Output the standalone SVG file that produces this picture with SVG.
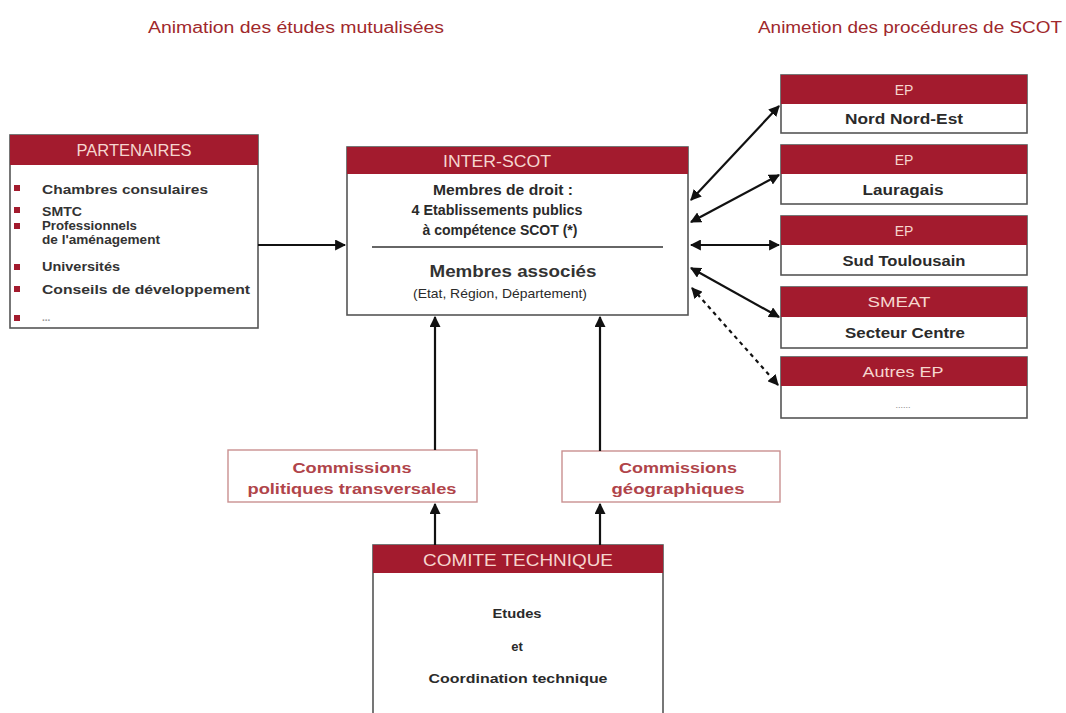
<svg xmlns="http://www.w3.org/2000/svg" width="1066" height="713" viewBox="0 0 1066 713">
<style>
text{font-family:"Liberation Sans","DejaVu Sans",sans-serif;text-anchor:middle}
.title{fill:#a0282c;font-size:16px}
.box{fill:#fff;stroke:#555;stroke-width:1.6}
.hdr{fill:#a31b2e}
.htxt{fill:#f6d6cf}
.btxt{fill:#2a2a2a;font-weight:bold}
.ntxt{fill:#333}
.item{fill:#333;font-weight:bold;text-anchor:start}
.bul{fill:#a31b2e}
.com{fill:#fff;stroke:#c99090;stroke-width:1.4}
.ctxt{fill:#b0444a;font-weight:bold}
.arr{stroke:#111;stroke-width:2.2;fill:none}
</style>
<defs>
<marker id="ah" viewBox="0 0 10 10" refX="9" refY="5" markerWidth="5" markerHeight="5" orient="auto-start-reverse" markerUnits="strokeWidth">
<path d="M0,0 L10,5 L0,10 z" fill="#111"/>
</marker>
</defs>
<rect width="1066" height="713" fill="#fff"/>
<g id="titles">
<text class="title" x="296" y="33" textLength="296" lengthAdjust="spacingAndGlyphs">Animation des études mutualisées</text>
<text class="title" x="910" y="33" textLength="304" lengthAdjust="spacingAndGlyphs">Animetion des procédures de SCOT</text>
</g>
<g id="partenaires">
<rect class="box" x="10" y="135" width="248" height="193"/>
<rect class="hdr" x="10" y="135" width="248" height="30"/>
<text class="htxt" x="134" y="156" style="font-size:16px" textLength="115" lengthAdjust="spacingAndGlyphs">PARTENAIRES</text>
<rect class="bul" x="14" y="185" width="6" height="6"/>
<rect class="bul" x="14" y="207" width="6" height="6"/>
<rect class="bul" x="14" y="223" width="6" height="6"/>
<rect class="bul" x="14" y="264" width="6" height="6"/>
<rect class="bul" x="14" y="286" width="6" height="6"/>
<rect class="bul" x="14" y="315" width="6" height="6"/>
<text class="item" x="42" y="194" style="font-size:13.5px" textLength="166" lengthAdjust="spacingAndGlyphs">Chambres consulaires</text>
<text class="item" x="42" y="216" style="font-size:13.5px" textLength="40" lengthAdjust="spacingAndGlyphs">SMTC</text>
<text class="item" x="42" y="230" style="font-size:13px" textLength="95" lengthAdjust="spacingAndGlyphs">Professionnels</text>
<text class="item" x="42" y="244" style="font-size:13px" textLength="118" lengthAdjust="spacingAndGlyphs">de l'aménagement</text>
<text class="item" x="42" y="271" style="font-size:12.5px" textLength="78" lengthAdjust="spacingAndGlyphs">Universités</text>
<text class="item" x="42" y="294" style="font-size:13.5px" textLength="208" lengthAdjust="spacingAndGlyphs">Conseils de développement</text>
<text class="item" x="42" y="321" style="font-size:10px;fill:#999">...</text>
</g>
<g id="interscot">
<rect class="box" x="347" y="147" width="341" height="168"/>
<rect class="hdr" x="347" y="147" width="341" height="27"/>
<text class="htxt" x="497" y="167" style="font-size:16px" textLength="108" lengthAdjust="spacingAndGlyphs">INTER-SCOT</text>
<text class="btxt" x="503" y="195" style="font-size:15px" textLength="140" lengthAdjust="spacingAndGlyphs">Membres de droit :</text>
<text class="btxt" x="497" y="215" style="font-size:15px" textLength="171" lengthAdjust="spacingAndGlyphs">4 Etablissements publics</text>
<text class="btxt" x="500" y="235" style="font-size:15px" textLength="155" lengthAdjust="spacingAndGlyphs">à compétence SCOT (*)</text>
<line x1="372" y1="247" x2="663" y2="247" stroke="#333" stroke-width="1.4"/>
<text class="btxt" x="513" y="277" style="font-size:17px;fill:#333" textLength="167" lengthAdjust="spacingAndGlyphs">Membres associés</text>
<text class="ntxt" x="500" y="298" style="font-size:13px;fill:#2a2a2a" textLength="174" lengthAdjust="spacingAndGlyphs">(Etat, Région, Département)</text>
</g>
<g id="ep1">
<rect class="box" x="781" y="75" width="246" height="58"/>
<rect class="hdr" x="781" y="75" width="246" height="29"/>
<text class="htxt" x="904" y="95" style="font-size:14px">EP</text>
<text class="btxt" x="904" y="124" style="font-size:14px" textLength="118" lengthAdjust="spacingAndGlyphs">Nord Nord-Est</text>
</g>
<g id="ep2">
<rect class="box" x="781" y="145" width="246" height="59"/>
<rect class="hdr" x="781" y="145" width="246" height="29"/>
<text class="htxt" x="904" y="165" style="font-size:14px">EP</text>
<text class="btxt" x="903" y="195" style="font-size:14px" textLength="81" lengthAdjust="spacingAndGlyphs">Lauragais</text>
</g>
<g id="ep3">
<rect class="box" x="781" y="216" width="246" height="59"/>
<rect class="hdr" x="781" y="216" width="246" height="29"/>
<text class="htxt" x="904" y="236" style="font-size:14px">EP</text>
<text class="btxt" x="904" y="266" style="font-size:14px" textLength="123" lengthAdjust="spacingAndGlyphs">Sud Toulousain</text>
</g>
<g id="smeat">
<rect class="box" x="781" y="287" width="246" height="61"/>
<rect class="hdr" x="781" y="287" width="246" height="30"/>
<text class="htxt" x="899" y="307" style="font-size:14px" textLength="63" lengthAdjust="spacingAndGlyphs">SMEAT</text>
<text class="btxt" x="905" y="338" style="font-size:14px" textLength="120" lengthAdjust="spacingAndGlyphs">Secteur Centre</text>
</g>
<g id="autres">
<rect class="box" x="781" y="357" width="246" height="61"/>
<rect class="hdr" x="781" y="357" width="246" height="29"/>
<text class="htxt" x="903" y="377" style="font-size:14px" textLength="81" lengthAdjust="spacingAndGlyphs">Autres EP</text>
<text class="ntxt" x="903" y="408" style="font-size:9px;fill:#888">......</text>
</g>
<g id="commissions-politiques">
<rect class="com" x="228" y="450" width="249" height="52"/>
<text class="ctxt" x="352" y="473" style="font-size:15px" textLength="119" lengthAdjust="spacingAndGlyphs">Commissions</text>
<text class="ctxt" x="352" y="494" style="font-size:15px" textLength="209" lengthAdjust="spacingAndGlyphs">politiques transversales</text>
</g>
<g id="commissions-geo">
<rect class="com" x="562" y="451" width="218" height="51"/>
<text class="ctxt" x="678" y="473" style="font-size:15px" textLength="118" lengthAdjust="spacingAndGlyphs">Commissions</text>
<text class="ctxt" x="678" y="494" style="font-size:15px" textLength="133" lengthAdjust="spacingAndGlyphs">géographiques</text>
</g>
<g id="comite">
<rect class="box" x="373" y="545" width="290" height="175"/>
<rect class="hdr" x="373" y="545" width="290" height="28"/>
<text class="htxt" x="518" y="566" style="font-size:16px" textLength="190" lengthAdjust="spacingAndGlyphs">COMITE TECHNIQUE</text>
<text class="btxt" x="517" y="618" style="font-size:13px" textLength="49" lengthAdjust="spacingAndGlyphs">Etudes</text>
<text class="btxt" x="517" y="651" style="font-size:13px">et</text>
<text class="btxt" x="518" y="683" style="font-size:13px" textLength="179" lengthAdjust="spacingAndGlyphs">Coordination technique</text>
</g>
<g id="connectors">
<line class="arr" x1="258" y1="245" x2="345" y2="245" marker-end="url(#ah)"/>
<line class="arr" x1="691" y1="200" x2="779" y2="106" marker-start="url(#ah)" marker-end="url(#ah)"/>
<line class="arr" x1="691" y1="222" x2="779" y2="175" marker-start="url(#ah)" marker-end="url(#ah)"/>
<line class="arr" x1="691" y1="245" x2="779" y2="245" marker-start="url(#ah)" marker-end="url(#ah)"/>
<line class="arr" x1="691" y1="268" x2="779" y2="317" marker-start="url(#ah)" marker-end="url(#ah)"/>
<line class="arr" x1="692" y1="288" x2="778" y2="385" stroke-dasharray="4,4" marker-start="url(#ah)" marker-end="url(#ah)"/>
<line class="arr" x1="435" y1="450" x2="435" y2="317" marker-end="url(#ah)"/>
<line class="arr" x1="600" y1="451" x2="600" y2="317" marker-end="url(#ah)"/>
<line class="arr" x1="435" y1="545" x2="435" y2="504" marker-end="url(#ah)"/>
<line class="arr" x1="600" y1="545" x2="600" y2="504" marker-end="url(#ah)"/>
</g>
</svg>
